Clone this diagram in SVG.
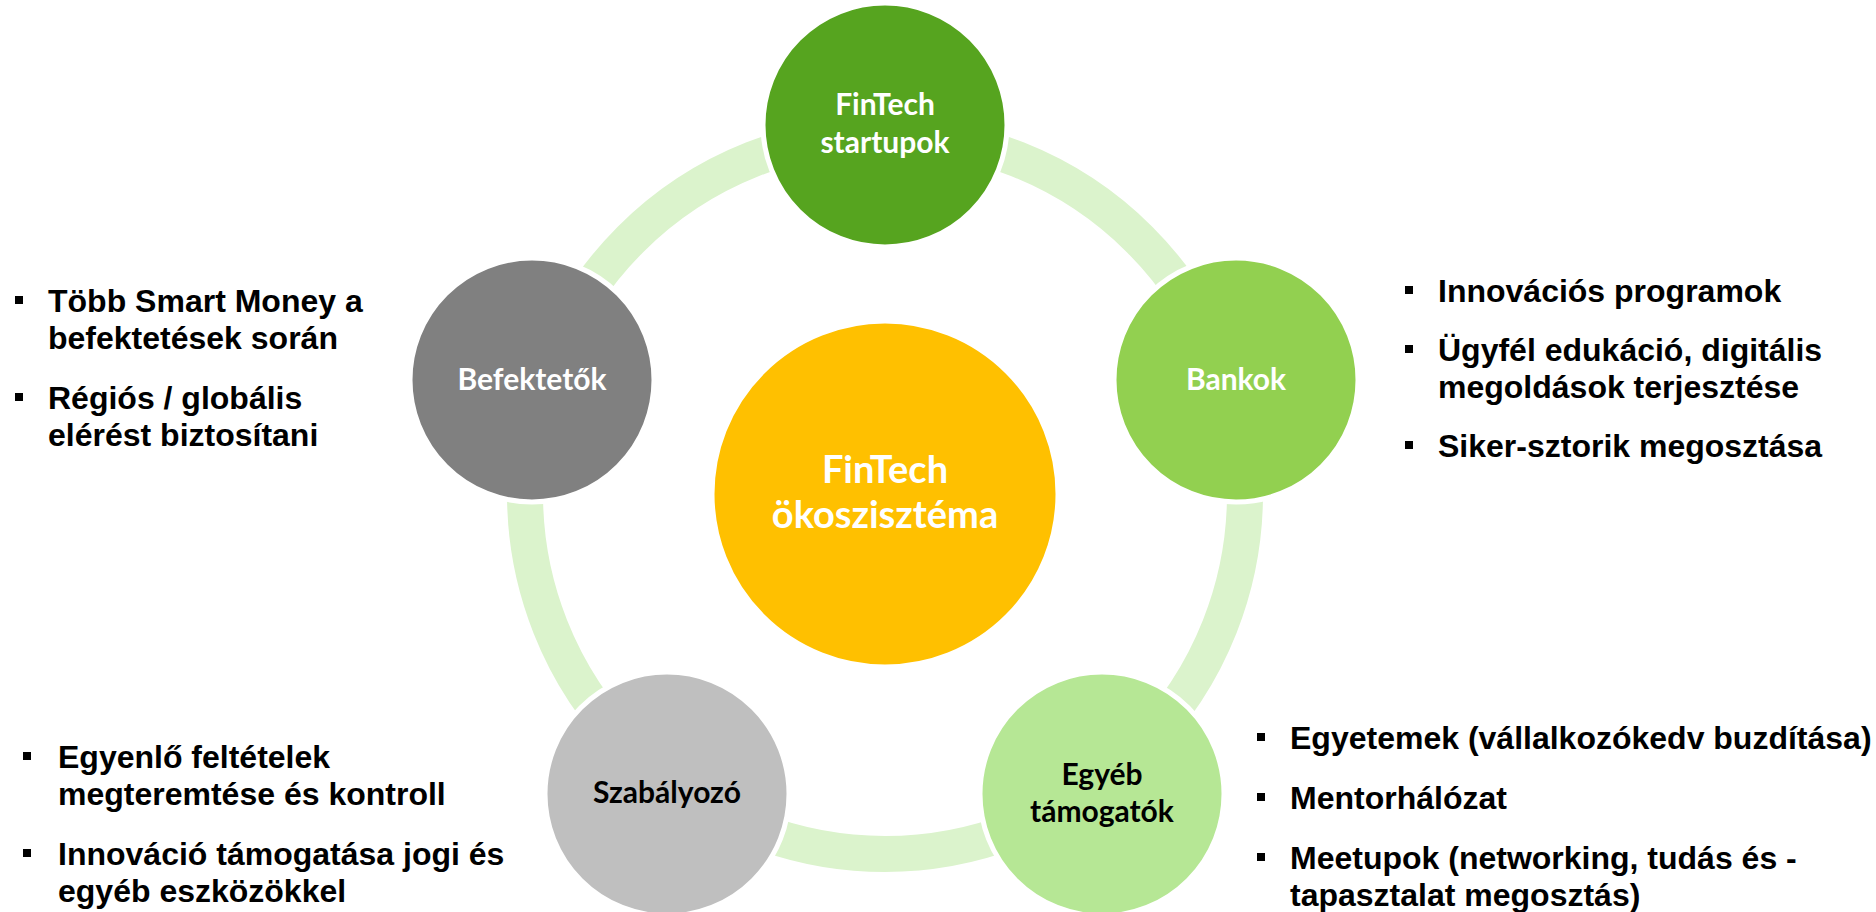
<svg xmlns="http://www.w3.org/2000/svg" width="1876" height="912" viewBox="0 0 1876 912">
  <style>
    .node { stroke: #FFFFFF; stroke-width: 5; }
    .lbl { font-family: Lato, "Open Sans", sans-serif; font-weight: bold; font-size: 30px; text-anchor: middle; }
    .big { font-size: 38px; }
    .w { fill: #FFFFFF; }
    .k { fill: #000000; }
    .bt { font-family: "Liberation Sans", Arial, sans-serif; font-weight: bold; font-size: 32px; fill: #000000; }
    .bul { fill: #000000; }
  </style>
  <rect width="1876" height="912" fill="#FFFFFF"/>
  <g id="connectors">
    <circle cx="885" cy="494" r="360" fill="none" stroke="#DBF3CC" stroke-width="36"/>
  </g>
  <g id="center">
    <circle class="node" cx="885" cy="494" r="173" fill="#FFC000"/>
    <text class="lbl big w" x="885" y="483">FinTech</text>
    <text class="lbl big w" x="885" y="528">ökoszisztéma</text>
  </g>
  <g id="fintech-startupok">
    <circle class="node" cx="885" cy="125" r="122" fill="#56A41F"/>
    <text class="lbl w" x="885" y="115">FinTech</text>
    <text class="lbl w" x="885" y="153">startupok</text>
  </g>
  <g id="bankok">
    <circle class="node" cx="1236" cy="380" r="122" fill="#92D050"/>
    <text class="lbl w" x="1236" y="390">Bankok</text>
  </g>
  <g id="egyeb-tamogatok">
    <circle class="node" cx="1102" cy="794" r="122" fill="#B6E795"/>
    <text class="lbl k" x="1102" y="785">Egyéb</text>
    <text class="lbl k" x="1102" y="822">támogatók</text>
  </g>
  <g id="szabalyozo">
    <circle class="node" cx="667" cy="794" r="122" fill="#BFBFBF"/>
    <text class="lbl k" x="667" y="803">Szabályozó</text>
  </g>
  <g id="befektetok">
    <circle class="node" cx="532" cy="380" r="122" fill="#808080"/>
    <text class="lbl w" x="532" y="390">Befektetők</text>
  </g>
  <g id="text-befektetok">
    <rect class="bul" x="15" y="296" width="8" height="8"/>
    <text class="bt" x="48" y="312">Több Smart Money a</text>
    <text class="bt" x="48" y="349">befektetések során</text>
    <rect class="bul" x="15" y="393" width="8" height="8"/>
    <text class="bt" x="48" y="409">Régiós / globális</text>
    <text class="bt" x="48" y="446">elérést biztosítani</text>
  </g>
  <g id="text-bankok">
    <rect class="bul" x="1405" y="286" width="8" height="8"/>
    <text class="bt" x="1438" y="302">Innovációs programok</text>
    <rect class="bul" x="1405" y="345" width="8" height="8"/>
    <text class="bt" x="1438" y="361">Ügyfél edukáció, digitális</text>
    <text class="bt" x="1438" y="398">megoldások terjesztése</text>
    <rect class="bul" x="1405" y="441" width="8" height="8"/>
    <text class="bt" x="1438" y="457">Siker-sztorik megosztása</text>
  </g>
  <g id="text-szabalyozo">
    <rect class="bul" x="23" y="752" width="8" height="8"/>
    <text class="bt" x="58" y="768">Egyenlő feltételek</text>
    <text class="bt" x="58" y="805">megteremtése és kontroll</text>
    <rect class="bul" x="23" y="849" width="8" height="8"/>
    <text class="bt" x="58" y="865">Innováció támogatása jogi és</text>
    <text class="bt" x="58" y="902">egyéb eszközökkel</text>
  </g>
  <g id="text-egyeb">
    <rect class="bul" x="1257" y="733" width="8" height="8"/>
    <text class="bt" x="1290" y="749">Egyetemek (vállalkozókedv buzdítása)</text>
    <rect class="bul" x="1257" y="793" width="8" height="8"/>
    <text class="bt" x="1290" y="809">Mentorhálózat</text>
    <rect class="bul" x="1257" y="853" width="8" height="8"/>
    <text class="bt" x="1290" y="869">Meetupok (networking, tudás és -</text>
    <text class="bt" x="1290" y="906">tapasztalat megosztás)</text>
  </g>
</svg>
